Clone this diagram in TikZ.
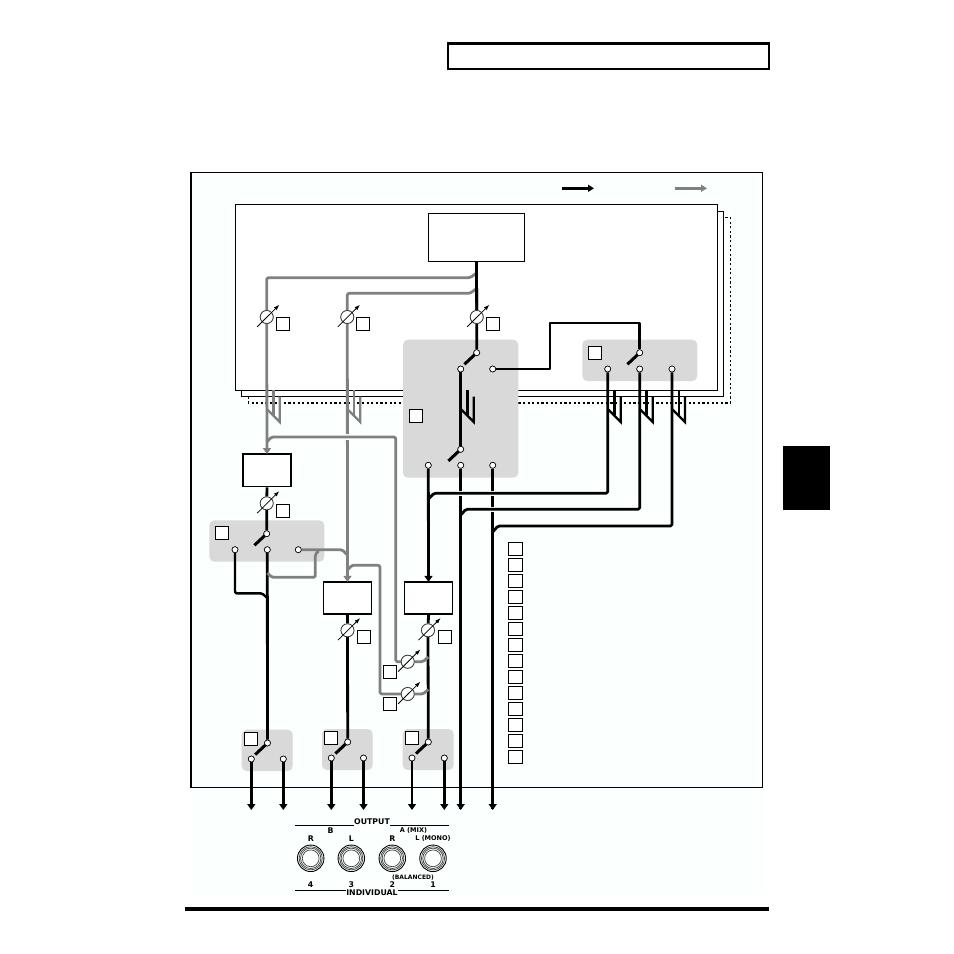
\documentclass[tikz,border=0pt]{standalone}
\usepackage{fontspec}
\setmainfont{DejaVu Sans}
\usetikzlibrary{
  arrows.meta,
  calc
}
\definecolor{paneltint}{RGB}{251, 255, 254}
\definecolor{switchgrey}{RGB}{217, 217, 217}
\definecolor{sendgrey}{RGB}{128, 128, 128}
\tikzset{
stackbox/.style={
  draw,
  fill=white,
  line width=1pt
},
busbox/.style={
  draw,
  fill=white,
  line width=1.7pt,
  minimum width=48pt,
  minimum height=32.5pt,
  inner sep=0pt
},
switchpanel/.style={
  fill=switchgrey,
  rounded corners=5pt
},
refbox/.style={
  draw,
  fill=white,
  line width=1pt,
  minimum size=13pt,
  inner sep=0pt
},
terminal/.style={
  circle,
  draw,
  fill=white,
  line width=0.6pt,
  minimum size=6pt,
  inner sep=0pt
},
knob/.style={
  circle,
  draw=black!80,
  fill=white,
  line width=0.7pt,
  minimum size=13pt,
  inner sep=0pt
},
knobarrow/.style={
  -{Latex[length=5.5pt,width=4pt]},
  line width=0.8pt
},
switcharm/.style={
  line width=3pt
},
mainline/.style={
  line width=2.8pt,
  line join=round
},
sendline/.style={
  line width=2.8pt,
  draw=sendgrey,
  line join=round
},
halo/.style={
  line width=5.5pt,
  draw=paneltint
},
mainarrow/.style={
  mainline,
  -{Triangle[length=6pt,width=8pt]},
  shorten >=-1pt
},
sendarrow/.style={
  sendline,
  -{Triangle[length=6pt,width=8pt]},
  shorten >=-1pt
},
jacklabel/.style={
  font=\bfseries\fontsize{7.8}{8}\selectfont,
  inner sep=0pt
},
smalllabel/.style={
  font=\bfseries\fontsize{6.5}{7}\selectfont,
  inner sep=0pt
},
jackring/.style={
  line width=0.7pt,
  draw=black!75
}
}
\begin{document}
\begin{tikzpicture}[x=1pt,y=-1pt]
\useasboundingbox (0,0) rectangle (954,954);
\fill[white] (0,0) rectangle (954,954);

% frame and page furniture
\fill[paneltint] (190,172) rectangle (764.5,895);
\draw[line width=1.1pt] (191,787.3) -- (191,172.5) -- (762.5,172.5) -- (762.5,787.3);
\draw[line width=2.2pt] (191,172) -- (191,787.3);
\draw[line width=1.1pt] (190,787.3) -- (762.5,787.3);
\draw[fill=white,line width=2.2pt] (448,43.5) rectangle (769,69);
\fill (783,446) rectangle (830,510);
\fill (185,907) rectangle (769,911);

% stacked part sheets
\draw[line width=1.6pt,dash pattern=on 2.2pt off 2.4pt,fill=white] (248.3,217.3) rectangle (730.3,402.7);
\draw[stackbox] (241.3,211.3) rectangle (723.3,396.7);
\draw[stackbox] (235.3,204.3) rectangle (717.3,390.3);

% grey panels
\fill[switchpanel] (403,339.7) rectangle (518.3,477.7);
\fill[switchpanel] (582.3,339.7) rectangle (697.3,381);
\fill[switchpanel] (209.3,520.3) rectangle (324.3,561.7);
\fill[switchpanel] (241.7,729.7) rectangle (292.7,771);
\fill[switchpanel] (322,729) rectangle (372.7,770);
\fill[switchpanel] (402.7,729) rectangle (453.7,770);

% boxes
\node[stackbox,minimum width=96pt,minimum height=48pt,inner sep=0pt] (partbus) at (476.5,237.3) {};
\node[busbox] (busc) at (267,470.2) {};
\node[busbox] (busb) at (347.5,598) {};
\node[busbox] (busa) at (428.5,598) {};

% switch terminals
\node[terminal] (pa) at (476.7,352.7) {};
\node[terminal] (pal) at (460.7,369) {};
\node[terminal] (par) at (492.7,369) {};
\node[terminal] (qa) at (460.7,449.3) {};
\node[terminal] (qal) at (428.3,465.3) {};
\node[terminal] (qam) at (460.7,465.3) {};
\node[terminal] (qar) at (492.7,465.3) {};
\node[terminal] (pb) at (639.7,352.7) {};
\node[terminal] (pbl) at (607.7,369) {};
\node[terminal] (pbm) at (639.7,369) {};
\node[terminal] (pbr) at (672,369) {};
\node[terminal] (pc) at (266.7,533.7) {};
\node[terminal] (pcl) at (235,549.7) {};
\node[terminal] (pcm) at (267.3,549.7) {};
\node[terminal] (pcr) at (298.3,549.7) {};
\node[terminal] (oa) at (267.5,743) {};
\node[terminal] (oal) at (251.3,759) {};
\node[terminal] (oar) at (283.3,759) {};
\node[terminal] (ob) at (347.7,742) {};
\node[terminal] (obl) at (331.3,758) {};
\node[terminal] (obr) at (363.5,758) {};
\node[terminal] (oc) at (428.3,742) {};
\node[terminal] (ocl) at (412,758) {};
\node[terminal] (ocr) at (444.3,758) {};

% free ends of the outputs
\coordinate (jackone) at (251.3,809);
\coordinate (jacktwo) at (283.3,809);
\coordinate (jackthree) at (331.3,809);
\coordinate (jackfour) at (363.5,809);
\coordinate (jackfive) at (412,809);
\coordinate (jacksix) at (444.3,809);
\coordinate (jackseven) at (460.7,809);
\coordinate (jackeight) at (492.7,809);

% knobs
\node[knob] (ksenda) at (266.7,317) {};
\node[knob] (ksendb) at (347.3,317) {};
\node[knob] (kpart) at (476.7,317) {};
\node[knob] (kbusc) at (266.7,503.3) {};
\node[knob] (kbusb) at (347.5,630.3) {};
\node[knob] (kbusa) at (428,630.3) {};
\node[knob] (kreta) at (407.7,661.7) {};
\node[knob] (kretb) at (407.7,694) {};

% main signal
\draw[mainline] (partbus.south) -- (kpart) -- (pa);
\draw[mainline] (pal) -- (qa);
\draw[mainline] (qam) -- (jackseven);
\draw[mainline] (qar) -- (jackeight);
\draw[mainline] (par) -- (550,369) -- (550,323) -- (639.7,323) -- (pb);
\draw[mainarrow] (qal) -- (busa.north);
\draw[mainline] (busc.south) -- (kbusc) -- (pc);
\draw[mainline] (pcm) -- (oa);
\draw[mainline] (busb.south) -- (kbusb) -- (ob);
\draw[mainline] (busa.south) -- (kbusa) -- (oc);

% sends
\draw[sendarrow] (ksenda) -- (busc.north);
\draw[sendarrow] (ksendb) -- (busb.north);
\draw[sendline,rounded corners=1.5pt] (ksenda) -- (266.7,277.7) -- (470,277.7) -- (476.7,273);
\draw[sendline,rounded corners=1.5pt] (ksendb) -- (347.3,293.3) -- (470,293.3) -- (476.7,288.5);
\draw[mainline] (partbus.south) -- (kpart);
\draw[halo] (341,437) -- (353,437);
\draw[sendline,rounded corners=1.5pt] (266.7,442) -- (271.5,437) -- (395.7,437) -- (395.7,661.7) -- (kreta);
\draw[sendline,rounded corners=1.5pt] (kreta) -- (423,661.7) -- (428.3,657);
\draw[sendline,rounded corners=1.5pt] (347.3,570) -- (352,565.3) -- (380,565.3) -- (380,694) -- (kretb);
\draw[sendline,rounded corners=1.5pt] (kretb) -- (423,694) -- (428.3,689.5);
\draw[sendline,rounded corners=1.5pt] (pcr) -- (342,549.7) -- (347.3,555);
\draw[sendline,rounded corners=1.5pt] (318.5,551) -- (315.3,554.5) -- (315.3,577.3) -- (272,577.3) -- (267.3,573);

% outputs of the part switch, crossing the two lines above
\draw[halo] (455,493.3) -- (500,493.3);
\draw[halo] (486,509.3) -- (500,509.3);
\draw[mainline,rounded corners=1.5pt] (pbl) -- (607.7,493.3) -- (434,493.3) -- (428.3,499);
\draw[mainline,rounded corners=1.5pt] (pbm) -- (639.7,509.3) -- (466,509.3) -- (460.7,515);
\draw[mainline,rounded corners=1.5pt] (pbr) -- (672,526) -- (498,526) -- (492.7,532);
\draw[mainline,line width=2.4pt,rounded corners=1.5pt] (pcl) -- (235,593.3) -- (262,593.3) -- (267.3,598);

% sheet stubs
\foreach \stubx/\stubcolor in {266.7/sendgrey,347.3/sendgrey,460.7/black,607.7/black,639.7/black,672/black}{
  \draw[line width=2.2pt,draw=\stubcolor,line join=round] (\stubx+6.8,390.3) -- (\stubx+6.8,415);
  \draw[line width=2.2pt,draw=\stubcolor,line join=miter] (\stubx,409) -- (\stubx+13,422) -- (\stubx+13,396.7);
}

% output lines
\draw[mainarrow] (oal) -- (jackone);
\draw[mainarrow] (oar) -- (jacktwo);
\draw[mainarrow] (obl) -- (jackthree);
\draw[mainarrow] (obr) -- (jackfour);
\draw[mainarrow] (ocl) -- (jackfive);
\draw[mainarrow] (ocr) -- (jacksix);
\draw[mainarrow] (jackseven) ++(0,-5) -- (jackseven);
\draw[mainarrow] (jackeight) ++(0,-5) -- (jackeight);

% switch arms
\foreach \pivot in {pa,qa,pb,pc,oa,ob,oc}{
  \draw[switcharm] ($(\pivot)+(-1,1)$) -- ($(\pivot)+(-12.3,11.6)$);
  \node[terminal] at (\pivot) {};
}
\foreach \term in {pal,par,qal,qam,qar,pbl,pbm,pbr,pcl,pcm,pcr,oal,oar,obl,obr,ocl,ocr}{
  \node[terminal] at (\term) {};
}

% knobs on top of the lines
\foreach \kn in {ksenda,ksendb,kpart,kbusc,kbusb,kbusa,kreta,kretb}{
  \node[knob] at (\kn) {};
  \draw[knobarrow] ($(\kn)+(-9.5,9.8)$) -- ($(\kn)+(12.6,-12.2)$);
}

% reference squares
\node[refbox] (ra) at (283,323.5) {};
\node[refbox] (rb) at (363,323.5) {};
\node[refbox] (rc) at (493,323.5) {};
\node[refbox] (rd) at (595,353.2) {};
\node[refbox] (re) at (415.5,416) {};
\node[refbox] (rf) at (283,511) {};
\node[refbox] (rg) at (221.5,533) {};
\node[refbox] (rh) at (363.5,637) {};
\node[refbox] (ri) at (444.5,637) {};
\node[refbox] (rj) at (390,672) {};
\node[refbox] (rk) at (390,704) {};
\node[refbox] (rl) at (251,739.2) {};
\node[refbox] (rm) at (331,737.5) {};
\node[refbox] (rn) at (412,737.5) {};
\foreach \row in {0,...,13}{
  \node[refbox,minimum size=13.4pt] (list\row) at (515.3,548.8+16*\row) {};
}

% legend
\coordinate (legmainend) at (594,188.3);
\coordinate (legsendend) at (707,188.3);
\draw[line width=3pt,-{Triangle[length=6pt,width=7pt]}] (562,188.3) -- (legmainend);
\draw[line width=3pt,draw=sendgrey,-{Triangle[length=6pt,width=7pt]}] (675,188.3) -- (legsendend);

% rear panel jacks
\foreach \jackx/\jackname in {310.7/r,351.3/l,392.3/m,433/n}{
  \node[circle,draw,line width=0.9pt,minimum size=26.5pt,inner sep=0pt] (jack\jackname) at (\jackx,858.3) {};
  \draw[jackring] (\jackx,858.3) circle (11.6pt);
  \draw[jackring] (\jackx,858.3) circle (10.2pt);
  \draw[jackring] (\jackx,858.3) circle (8.4pt);
}
\node[jacklabel] (outlabel) at (372,821.8) {OUTPUT};
\node[jacklabel] (lb) at (330.7,830.5) {B};
\node[smalllabel] (la) at (413.5,830.5) {A (MIX)};
\node[jacklabel] (lr) at (311,838.5) {R};
\node[jacklabel] (ll) at (351.3,838.5) {L};
\node[jacklabel] (lrr) at (392.3,838.5) {R};
\node[smalllabel] (lmono) at (433,838.5) {L (MONO)};
\node[smalllabel,font=\bfseries\fontsize{6}{7}\selectfont] (lbal) at (413,877.5) {(BALANCED)};
\node[jacklabel] (nfour) at (310.7,885) {4};
\node[jacklabel] (nthree) at (351.3,885) {3};
\node[jacklabel] (ntwo) at (392.3,885) {2};
\node[jacklabel] (nfirst) at (433,885) {1};
\node[jacklabel] (indlabel) at (372,893) {INDIVIDUAL};
\coordinate (outleft) at (295,825.3);
\coordinate (outright) at (449,825.3);
\coordinate (indleft) at (295,890.3);
\coordinate (indright) at (449,890.3);
\draw[line width=1pt] (outleft) -- (outleft -| outlabel.west);
\draw[line width=1pt] (outlabel.east |- outright) -- (outright);
\draw[line width=1pt] (indleft) -- (indleft -| indlabel.west);
\draw[line width=1pt] (indlabel.east |- indright) -- (indright);
\end{tikzpicture}
\end{document}
